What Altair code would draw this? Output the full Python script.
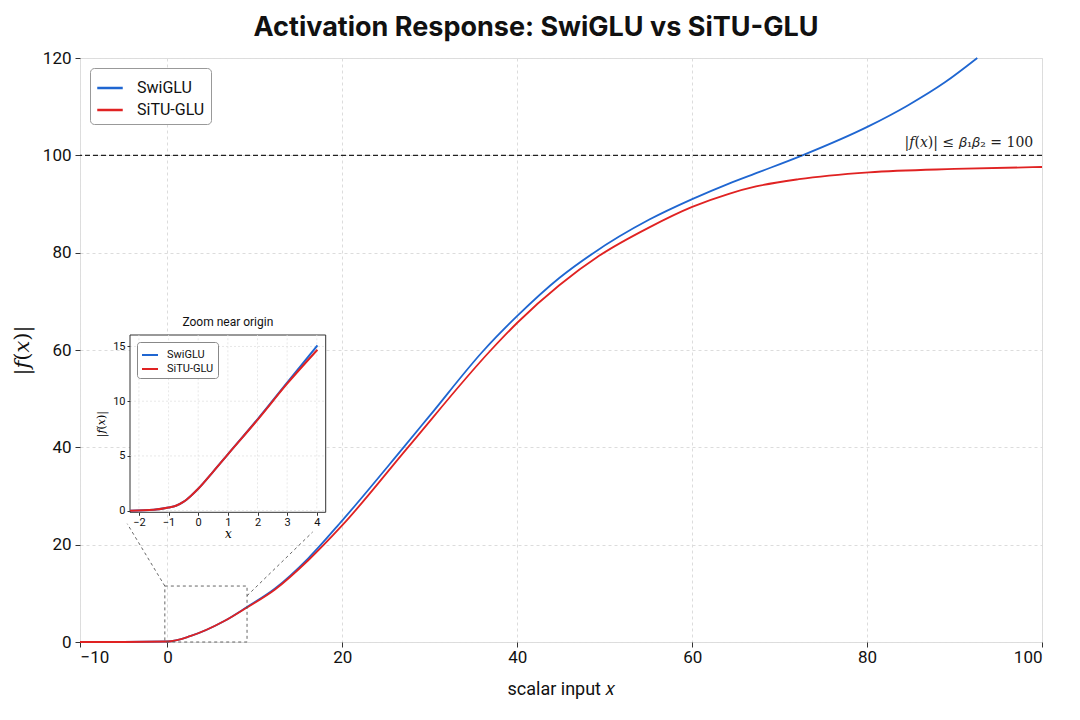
import altair as alt
import pandas as pd

# ---------------- data ----------------
series_names = ["SwiGLU", "SiTU-GLU"]
series_colors = ["#1f66d1", "#e02222"]

swiglu_x = [-10, -5, 0, 2.6, 6.5, 9.1, 12.3, 16.1, 20, 27.0, 29.9, 36.2, 40, 44.8, 48.6,
            55.1, 60, 64.2, 67.7, 72.6, 80.2, 84.6, 88.9, 92.6]
swiglu_y = [0, 0, 0.1, 1.2, 4.3, 7.2, 11.0, 17.2, 25.0, 40.0, 46.3, 60.0, 67.0, 74.8, 79.8,
            86.8, 91.0, 94.2, 96.6, 100.0, 106.0, 110.2, 115.0, 120.0]
situ_x = [-10, -5, 0, 2.6, 6.5, 9.1, 12.3, 16.1, 20, 27.5, 37.0, 40, 44.8, 49.4, 55.1, 60,
          64.2, 67.3, 72.2, 80.2, 90, 100]
situ_y = [0, 0, 0.1, 1.2, 4.3, 7.1, 10.8, 16.8, 24.0, 40.0, 60.0, 65.6, 73.3, 79.4, 85.2, 89.4,
          92.1, 93.6, 95.1, 96.5, 97.2, 97.6]

inset_x = [-2.3, -1.5, -1.0, -0.75, -0.5, -0.25, 0, 0.5, 1, 2, 3, 4.02]
inset_swiglu_y = [0.0, 0.08, 0.28, 0.45, 0.8, 1.35, 2.0, 3.55, 5.15, 8.35, 11.7, 15.1]
inset_situ_y = [0.0, 0.08, 0.28, 0.45, 0.8, 1.35, 2.0, 3.55, 5.15, 8.3, 11.6, 14.7]

main_x_ticks = [-10, 0, 20, 40, 60, 80, 100]
main_y_ticks = [0, 20, 40, 60, 80, 100, 120]
inset_x_ticks = [-2, -1, 0, 1, 2, 3, 4]
inset_y_ticks = [0, 5, 10, 15]

bound_value = 100
bound_label = "|𝑓(𝑥)| ≤ 𝛽₁𝛽₂ = 100"

zoom_box = {"x0": -0.3, "x1": 9.1, "y0": 0.0, "y1": 11.5}
connectors = [
    {"xa": -0.3, "ya": 11.5, "xb": -4.6, "yb": 24.3},
    {"xa": 9.1, "ya": 9.5, "xb": 16.6, "yb": 22.6},
]

main_x_domain = [-10, 100]
main_y_domain = [0, 120]
inset_x_domain = [-2.3, 4.3]
inset_y_domain = [-0.15, 16.05]

# ---------------- frames ----------------
df_main = pd.concat([
    pd.DataFrame({"x": swiglu_x, "y": swiglu_y, "series": series_names[0],
                  "o": list(range(len(swiglu_x)))}),
    pd.DataFrame({"x": situ_x, "y": situ_y, "series": series_names[1],
                  "o": list(range(len(situ_x)))}),
], ignore_index=True)

df_inset = pd.concat([
    pd.DataFrame({"x": inset_x, "y": inset_swiglu_y, "series": series_names[0],
                  "o": list(range(len(inset_x)))}),
    pd.DataFrame({"x": inset_x, "y": inset_situ_y, "series": series_names[1],
                  "o": list(range(len(inset_x)))}),
], ignore_index=True)

W, H = 962, 584
SANS = "Roboto"
SERIF = "DejaVu Serif"

# ---------------- main scales / axes ----------------
xs = alt.Scale(domain=main_x_domain, nice=False, zero=False)
ys = alt.Scale(domain=main_y_domain, nice=False, zero=False)
xaxis = alt.Axis(values=main_x_ticks, title="scalar input 𝑥", grid=True, gridDash=[3, 3],
                 gridColor="#dcdcdc", domain=False, tickColor="#333", tickSize=5,
                 labelFont=SANS, labelFontSize=17, labelColor="#111", labelPadding=2,
                 titleFont=SANS, titleFontSize=18, titleFontWeight="normal",
                 titleColor="#111", titlePadding=15)
yaxis = alt.Axis(values=main_y_ticks, title="|𝑓(𝑥)|", grid=True, gridDash=[3, 3],
                 gridColor="#dcdcdc", domain=False, tickColor="#333", tickSize=5,
                 labelFont=SANS, labelFontSize=17, labelColor="#111", labelPadding=4,
                 titleFont=SERIF, titleFontSize=21, titleFontWeight="normal",
                 titleColor="#111", titlePadding=10)

color_main = alt.Color("series:N", scale=alt.Scale(domain=series_names, range=series_colors),
                       sort=series_names,
                       legend=alt.Legend(orient="none", legendX=10, legendY=10, title=None,
                                         symbolType="stroke", symbolSize=650,
                                         symbolStrokeWidth=2.5, labelFont=SANS,
                                         labelFontSize=16, labelColor="#111",
                                         fillColor="white", strokeColor="#999",
                                         cornerRadius=4, padding=6, rowPadding=0,
                                         labelOffset=13))

lines_main = alt.Chart(df_main).mark_line(strokeWidth=1.8, interpolate="monotone").encode(
    x=alt.X("x:Q", scale=xs, axis=xaxis),
    y=alt.Y("y:Q", scale=ys, axis=yaxis),
    color=color_main,
    order="o:Q",
    detail="series:N",
)

bound_rule = alt.Chart(pd.DataFrame({"y": [bound_value]})).mark_rule(
    color="#222", strokeDash=[5, 3], strokeWidth=1.3
).encode(y=alt.Y("y:Q", scale=ys, axis=yaxis))

bound_text = alt.Chart(pd.DataFrame({"x": [99.0], "y": [bound_value], "t": [bound_label]})).mark_text(
    align="right", baseline="bottom", dy=-5, font=SERIF, fontSize=14, color="#222"
).encode(x=alt.X("x:Q", scale=xs, axis=xaxis), y=alt.Y("y:Q", scale=ys, axis=yaxis), text="t:N")

box = alt.Chart(pd.DataFrame([zoom_box])).mark_rect(
    fill=None, fillOpacity=0, stroke="#555", strokeDash=[3, 3], strokeWidth=0.9
).encode(x=alt.X("x0:Q", scale=xs, axis=xaxis), x2="x1:Q",
         y=alt.Y("y0:Q", scale=ys, axis=yaxis), y2="y1:Q")

conn = alt.Chart(pd.DataFrame(connectors)).mark_rule(
    color="#555", strokeDash=[3, 3], strokeWidth=0.9
).encode(x=alt.X("xa:Q", scale=xs, axis=xaxis), x2="xb:Q",
         y=alt.Y("ya:Q", scale=ys, axis=yaxis), y2="yb:Q")

main = alt.layer(lines_main, bound_rule, bound_text, box, conn)

# ---------------- inset ----------------
xsi = alt.Scale(domain=inset_x_domain, range=[50, 245.7], nice=False, zero=False)
ysi = alt.Scale(domain=inset_y_domain, range=[454.3, 277], nice=False, zero=False)
xaxis_i = alt.Axis(orient="bottom", offset=-129.7, values=inset_x_ticks, grid=False,
                   domain=False, tickSize=3, tickColor="#333", labelFont=SANS,
                   labelFontSize=11, labelColor="#111", labelPadding=1, title="𝑥",
                   titleFont=SERIF, titleFontSize=12, titleFontWeight="normal",
                   titlePadding=1, zindex=1)
yaxis_i = alt.Axis(orient="left", offset=-50, values=inset_y_ticks, grid=False,
                   domain=False, tickSize=3, tickColor="#333", labelFont=SANS,
                   labelFontSize=11, labelColor="#111", labelPadding=2, title="|𝑓(𝑥)|",
                   titleFont=SERIF, titleFontSize=11, titleFontWeight="normal",
                   titlePadding=6, zindex=1)

frame_i = alt.Chart(pd.DataFrame({"x0": [inset_x_domain[0]], "x1": [inset_x_domain[1]],
                                  "y0": [inset_y_domain[0]], "y1": [inset_y_domain[1]]})).mark_rect(
    fill="white", stroke="#333", strokeWidth=1
).encode(x=alt.X("x0:Q", scale=xsi, axis=xaxis_i), x2="x1:Q",
         y=alt.Y("y0:Q", scale=ysi, axis=yaxis_i), y2="y1:Q")

vgrid_i = alt.Chart(pd.DataFrame({"x": inset_x_ticks, "y0": inset_y_domain[0],
                                  "y1": inset_y_domain[1]})).mark_rule(
    color="#e2e2e2", strokeDash=[2, 2], strokeWidth=0.8
).encode(x=alt.X("x:Q", scale=xsi, axis=xaxis_i),
         y=alt.Y("y0:Q", scale=ysi, axis=yaxis_i), y2="y1:Q")

hgrid_i = alt.Chart(pd.DataFrame({"y": inset_y_ticks, "x0": inset_x_domain[0],
                                  "x1": inset_x_domain[1]})).mark_rule(
    color="#e2e2e2", strokeDash=[2, 2], strokeWidth=0.8
).encode(y=alt.Y("y:Q", scale=ysi, axis=yaxis_i),
         x=alt.X("x0:Q", scale=xsi, axis=xaxis_i), x2="x1:Q")

color_inset = alt.Color("series:N", scale=alt.Scale(domain=series_names, range=series_colors),
                        sort=series_names,
                        legend=alt.Legend(orient="none", legendX=57, legendY=284, title=None,
                                          symbolType="stroke", symbolSize=256,
                                          symbolStrokeWidth=2, labelFont=SANS,
                                          labelFontSize=11, labelColor="#111",
                                          fillColor="white", strokeColor="#888",
                                          cornerRadius=3, padding=4, rowPadding=0,
                                          labelOffset=8))

lines_i = alt.Chart(df_inset).mark_line(strokeWidth=2, interpolate="monotone").encode(
    x=alt.X("x:Q", scale=xsi, axis=xaxis_i),
    y=alt.Y("y:Q", scale=ysi, axis=yaxis_i),
    color=color_inset,
    order="o:Q",
    detail="series:N",
)

title_i = alt.Chart(pd.DataFrame({"x": [(inset_x_domain[0] + inset_x_domain[1]) / 2],
                                  "y": [inset_y_domain[1]], "t": ["Zoom  near origin"]})).mark_text(
    baseline="bottom", dy=-6, font=SANS, fontSize=12, color="#111"
).encode(x=alt.X("x:Q", scale=xsi, axis=xaxis_i), y=alt.Y("y:Q", scale=ysi, axis=yaxis_i),
         text="t:N")

inset = alt.layer(frame_i, vgrid_i, hgrid_i, lines_i, title_i)

chart = alt.layer(main, inset).resolve_scale(
    x="independent", y="independent", color="independent"
).properties(
    width=W, height=H,
    autosize=alt.AutoSizeParams(type="none"),
    padding={"left": 72, "top": 50, "right": 30, "bottom": 70},
    title=alt.TitleParams("Activation Response: SwiGLU vs SiTU-GLU", font="Inter",
                          fontSize=27, fontWeight="bold", color="#111", anchor="middle",
                          frame="group", dx=-25, offset=7),
).configure_view(stroke="#333", strokeWidth=1).configure(background="white")

chart.save("out.html", embed_options={"renderer": "svg", "actions": False})
